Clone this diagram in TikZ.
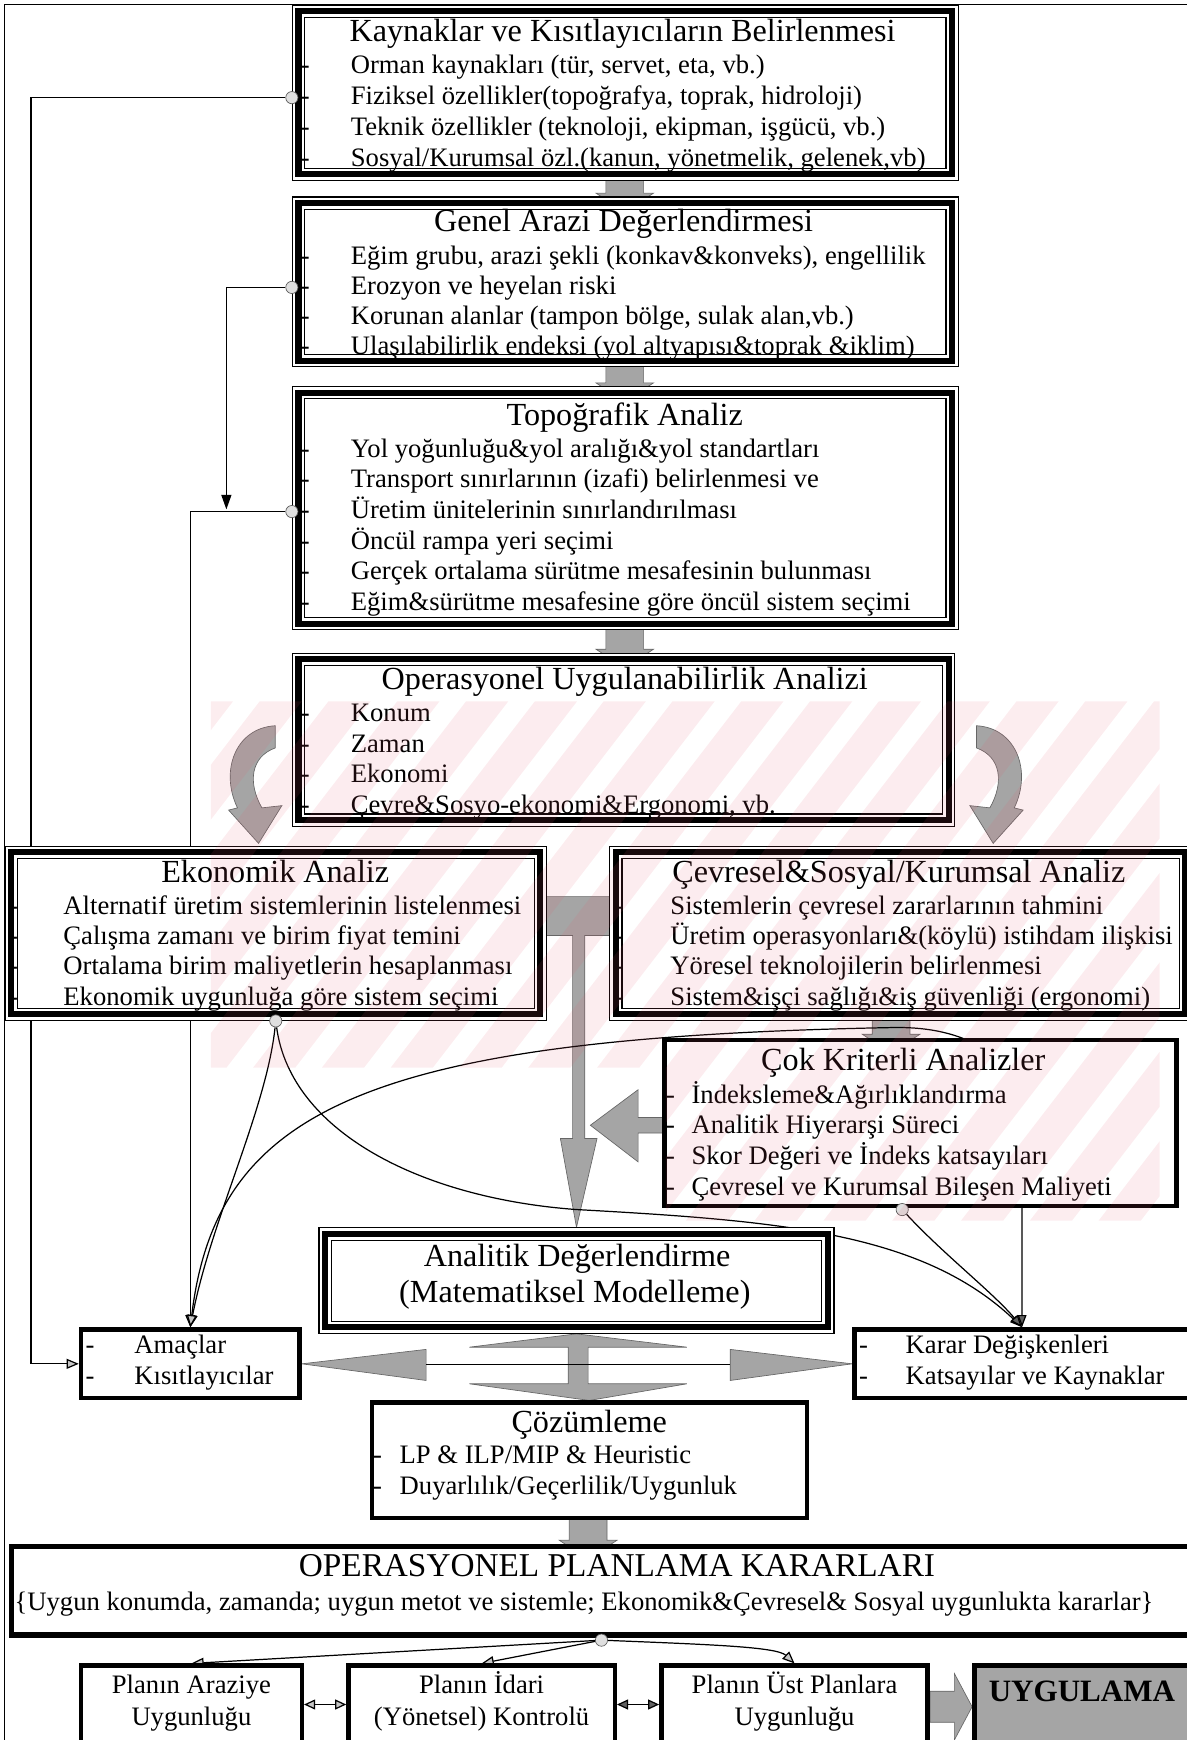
\documentclass[tikz,border=0pt]{standalone}
\usepackage{fontspec}
\setmainfont{Liberation Serif}
\usetikzlibrary{arrows.meta,backgrounds,calc}
\definecolor{wmpink}{RGB}{230,90,110}
\definecolor{stip}{RGB}{165,165,165}

% box node placed from its outer corners: name, style, x1, y1, x2, y2, inset of the stroke centre
\newcommand\flowbox[7]{%
  \pgfmathsetmacro\fbw{#5-#3-2*#7}%
  \pgfmathsetmacro\fbh{#6-#4-2*#7}%
  \pgfmathsetmacro\fbx{(#3+#5)/2}%
  \pgfmathsetmacro\fby{(#4+#6)/2}%
  \node[#2, minimum width=\fbw pt, minimum height=\fbh pt] (#1) at (\fbx,\fby) {};}

% dashed item rows: prefix, dash x, text x, first y, row step, list of items
\newcommand\itemrows[6]{%
  \foreach \txt [count=\k] in {#6} {%
    \node[itm] (#1-d\k) at (#2, {#4+(\k-1)*#5}) {-};
    \node[itm] (#1-i\k) at (#3, {#4+(\k-1)*#5}) {\txt};}}

% small grey block arrow joining two stacked boxes: x centre, top y, bottom y
\newcommand\gstub[3]{%
  \path[gshape] (#1-17,#2-4) -- (#1+17,#2-4) -- (#1+17,#3-3) -- (#1+26,#3-3)
    -- (#1,#3+14) -- (#1-26,#3-3) -- (#1-17,#3-3) -- cycle;}

% curved grey block arrow (left-hand version)
\newcommand\curvearrow{%
  \path[gshape] (248,654) .. controls (212,656) and (198,695) .. (214,728)
     -- (206,730) -- (233,760) -- (254,726) -- (236,728)
     .. controls (223,705) and (226,682) .. (248,674) -- cycle;}

\begin{document}
\begin{tikzpicture}[x=1pt,y=-1pt,
  dbl/.style={shape=rectangle, inner sep=0pt, outer sep=6pt,
     preaction={fill=white}, preaction={draw=black,line width=12pt},
     preaction={draw=white,line width=10pt}, draw=black, line width=5.5pt},
  sgl/.style={shape=rectangle, inner sep=0pt, outer sep=2pt, fill=white,
     draw=black, line width=4pt},
  ttl/.style={font=\fontsize{29}{33}\selectfont, inner sep=0pt, text height=20pt, text depth=6pt},
  itm/.style={font=\fontsize{24}{27}\selectfont, inner sep=0pt, anchor=west,
     text height=17pt, text depth=5pt},
  ctr/.style={itm, anchor=center},
  gshape/.style={fill=stip, draw=gray!80!black, line width=0.6pt},
  conn/.style={draw=black, line width=1.1pt},
  garr/.style={conn, -{Triangle[length=11pt,width=9pt,fill=gray!45]}},
  darr/.style={conn, -{Triangle[length=11pt,width=8pt,fill=gray!75!black]}},
  barr/.style={conn, -{Triangle[length=13pt,width=9pt]}},
  dot/.style={circle, inner sep=0pt, minimum size=11pt, fill=gray!25,
     draw=gray!70!black, line width=0.6pt},
]
\useasboundingbox (0,0) rectangle (1069,1568);

% ---------- boxes ----------
\flowbox{kay}{dbl}{263}{4}{864}{163}{6}
\flowbox{gen}{dbl}{263}{177}{864}{331}{6}
\flowbox{topo}{dbl}{263}{348}{864}{568}{6}
\flowbox{ops}{dbl}{263}{588}{861}{745}{6}
\flowbox{eko}{dbl}{4}{762}{493}{920}{6}
\flowbox{cev}{dbl}{549}{762}{1074}{920}{6}
\flowbox{cok}{sgl}{597}{935}{1062}{1089}{2}
\flowbox{ana}{dbl}{287}{1106}{752}{1202}{6}
\flowbox{amc}{sgl}{71}{1196}{272}{1262}{2}
\flowbox{kar}{sgl}{768}{1196}{1074}{1262}{2}
\flowbox{coz}{sgl}{333}{1262}{729}{1370}{2}
\flowbox{opk}{sgl, line width=5pt, outer sep=2.5pt}{8}{1391}{1085}{1476}{2.5}
\flowbox{pa}{sgl}{71}{1499}{274}{1585}{2}
\flowbox{pi}{sgl}{312}{1499}{556}{1585}{2}
\flowbox{pu}{sgl}{594}{1499}{838}{1585}{2}
\flowbox{uyg}{sgl, fill=stip}{876}{1499}{1085}{1585}{2}

% ---------- texts ----------
\node[ttl] (kay-t) at (561,30) {Kaynaklar ve Kısıtlayıcıların Belirlenmesi};
\itemrows{kay}{271}{316}{60}{28}{{Orman kaynakları (tür, servet, eta, vb.)},{Fiziksel özellikler(topoğrafya, toprak, hidroloji)},{Teknik özellikler (teknoloji, ekipman, işgücü, vb.)},{Sosyal/Kurumsal özl.(kanun, yönetmelik, gelenek,vb)}}

\node[ttl] (gen-t) at (562,202) {Genel Arazi Değerlendirmesi};
\itemrows{gen}{271}{316}{232}{27.3}{{Eğim grubu, arazi şekli (konkav\&konveks), engellilik},{Erozyon ve heyelan riski},{Korunan alanlar (tampon bölge, sulak alan,vb.)},{Ulaşılabilirlik endeksi (yol altyapısı\&toprak \&iklim)}}

\node[ttl] (topo-t) at (563,376) {Topoğrafik Analiz};
\itemrows{topo}{271}{316}{406}{27.6}{{Yol yoğunluğu\&yol aralığı\&yol standartları},{Transport sınırlarının (izafi) belirlenmesi ve},{Üretim ünitelerinin sınırlandırılması},{Öncül rampa yeri seçimi},{Gerçek ortalama sürütme mesafesinin bulunması},{Eğim\&sürütme mesafesine göre öncül sistem seçimi}}

\node[ttl] (ops-t) at (563,614) {Operasyonel Uygulanabilirlik Analizi};
\itemrows{ops}{271}{316}{644}{27.7}{{Konum},{Zaman},{Ekonomi},{Çevre\&Sosyo-ekonomi\&Ergonomi, vb.}}

\node[ttl] (eko-t) at (248,788) {Ekonomik Analiz};
\itemrows{eko}{8}{57}{818}{27.3}{{Alternatif üretim sistemlerinin listelenmesi},{Çalışma zamanı ve birim fiyat temini},{Ortalama birim maliyetlerin hesaplanması},{Ekonomik uygunluğa göre sistem seçimi}}

\node[ttl] (cev-t) at (810,788) {Çevresel\&Sosyal/Kurumsal Analiz};
\itemrows{cev}{554}{604}{818}{27.3}{{Sistemlerin çevresel zararlarının tahmini},{Üretim operasyonları\&(köylü) istihdam ilişkisi},{Yöresel teknolojilerin belirlenmesi},{Sistem\&işçi sağlığı\&iş güvenliği (ergonomi)}}

\node[ttl] (cok-t) at (814,958) {Çok Kriterli Analizler};
\itemrows{cok}{600}{623}{988}{27.7}{{İndeksleme\&Ağırlıklandırma},{Analitik Hiyerarşi Süreci},{Skor Değeri ve İndeks katsayıları},{Çevresel ve Kurumsal Bileşen Maliyeti}}

\node[ttl] (ana-t1) at (520,1134) {Analitik Değerlendirme};
\node[ttl] (ana-t2) at (518,1167) {(Matematiksel Modelleme)};

\itemrows{amc}{77}{121}{1214}{28}{{Amaçlar},{Kısıtlayıcılar}}
\itemrows{kar}{774}{816}{1214}{28}{{Karar Değişkenleri},{Katsayılar ve Kaynaklar}}

\node[ttl] (coz-t) at (531,1284) {Çözümleme};
\itemrows{coz}{336}{360}{1313}{28}{{LP \& ILP/MIP \& Heuristic},{Duyarlılık/Geçerlilik/Uygunluk}}

\node[ttl, font=\fontsize{30}{34}\selectfont] (opk-t) at (556,1414) {OPERASYONEL PLANLAMA KARARLARI};
\node[itm] (opk-s) at (13,1445) {\{Uygun konumda, zamanda; uygun metot ve sistemle; Ekonomik\&Çevresel\& Sosyal uygunlukta kararlar\}};

\node[ctr] (pa-1) at (172.5,1520) {Planın Araziye};
\node[ctr] (pa-2) at (172.5,1549) {Uygunluğu};
\node[ctr] (pi-1) at (434,1520) {Planın İdari};
\node[ctr] (pi-2) at (434,1549) {(Yönetsel) Kontrolü};
\node[ctr] (pu-1) at (716,1520) {Planın Üst Planlara};
\node[ctr] (pu-2) at (716,1549) {Uygunluğu};
\node[inner sep=0pt, font=\fontsize{28}{32}\selectfont\bfseries, text height=19pt, text depth=1pt] (uyg-t) at (975,1524) {UYGULAMA};

% ---------- line origins ----------
\node[dot] (c1) at (263,88) {};
\node[dot] (c2) at (263,259) {};
\node[dot] (c3) at (263,461) {};
\node[dot] (ce) at (eko.south) {};
\node[dot] (cc) at (813,1090) {};
\node[dot] (co) at (542,1478) {};
\coordinate (cv) at (803,926);
\coordinate (ka) at (28,88);
\coordinate (kb) at (204,259);
\coordinate (kbt) at (204,459);
\coordinate (kc1) at (520,1090);
\coordinate (kcv) at (921,1010);

\begin{scope}[on background layer]
  % page frame
  \draw[line width=1.2pt] (1075,4) -- (4,4) -- (4,1575);

  % grey block arrows between stacked boxes
  \gstub{563}{163}{177}
  \gstub{563}{331}{348}
  \gstub{563}{568}{588}
  \gstub{803}{920}{935}
  \gstub{530}{1370}{1391}

  % curved block arrows below the feasibility box
  \curvearrow
  \begin{scope}[xshift=1128pt, xscale=-1]
    \curvearrow
  \end{scope}

  % T-shaped arrow from the two analyses down to the analytic evaluation
  \path[gshape] (487,808) -- (554,808) -- (554,843) -- (527,843) -- (527,1026)
     -- (538,1026) -- (ana.north) -- (505,1026) -- (516,1026) -- (516,843)
     -- (487,843) -- cycle;

  % arrow out of the multi-criteria box
  \path[gshape] (cok.west |- 0,1007) -- (575,1007) -- (575,982) -- (532,1014)
     -- (575,1047) -- (575,1021) -- (cok.west |- 0,1021) -- cycle;

  % four-way arrow around the solution step
  \path[gshape] (ana.south) -- (619,1214) -- (530,1214) -- (530,1247) -- (619,1247)
     -- (coz.north) -- (423,1247) -- (512,1247) -- (512,1214) -- (423,1214) -- cycle;
  \path[gshape] (amc.east) -- (384,1216) -- (384,1244) -- cycle;
  \path[gshape] (kar.west) -- (658,1216) -- (658,1244) -- cycle;
  \draw[line width=0.8pt] (384,1230) -- (658,1230);

  % block arrow to the implementation box
  \path[gshape] (pu.east |- 0,1524) -- (860,1524) -- (860,1508) -- (uyg.west |- 0,1538)
     -- (860,1568) -- (860,1552) -- (pu.east |- 0,1552) -- cycle;

  % feedback lines on the left
  \draw[garr] (c1) -- (ka) |- (amc.west);
  \draw[barr] (c2) -- (kb) -- (kbt);
  \draw[garr] (c3) -| (amc.north);

  % links to objectives and decision variables
  \draw[garr] (ce) .. controls (240,1000) and (190,1100) .. (amc.north);
  \draw[darr] (ce) .. controls (262,1020) and (380,1080) .. (kc1)
     .. controls (700,1100) and (830,1110) .. (kar.north);
  \draw[garr] (cv) .. controls (330,935) and (195,1000) .. (amc.north);
  \draw[darr] (cv) .. controls (880,924) and (921,960) .. (kcv) -- (kar.north);
  \draw[darr] (cc) .. controls (850,1130) and (895,1165) .. (kar.north);

  % decisions to the three checks
  \draw[garr] (co) -- (pa.north);
  \draw[garr] (co) -- (pi.north);
  \draw[garr] (co) .. controls (640,1482) and (700,1484) .. (pu.north);
  \draw[conn, {Triangle[length=10pt,width=9pt,fill=gray!45]}-{Triangle[length=10pt,width=9pt,fill=gray!45]}]
     ($(pa.east)+(0,-6)$) -- ($(pi.west)+(0,-6)$);
  \draw[conn, {Triangle[length=10pt,width=9pt,fill=gray!75!black]}-{Triangle[length=10pt,width=9pt,fill=gray!75!black]}]
     ($(pi.east)+(0,-6)$) -- ($(pu.west)+(0,-6)$);
\end{scope}

% faint diagonal watermark stripes
\begin{scope}
  \clip (190,632) -- (1045,632) -- (1045,1100) -- (600,1100) -- (600,962) -- (190,962) -- cycle;
  \foreach \k in {0,...,25} {
    \fill[wmpink, fill opacity=0.11] ({-250+62*\k},1100) -- ({-212+62*\k},1100)
      -- ({148+62*\k},632) -- ({110+62*\k},632) -- cycle;
  }
\end{scope}
\end{tikzpicture}
\end{document}
